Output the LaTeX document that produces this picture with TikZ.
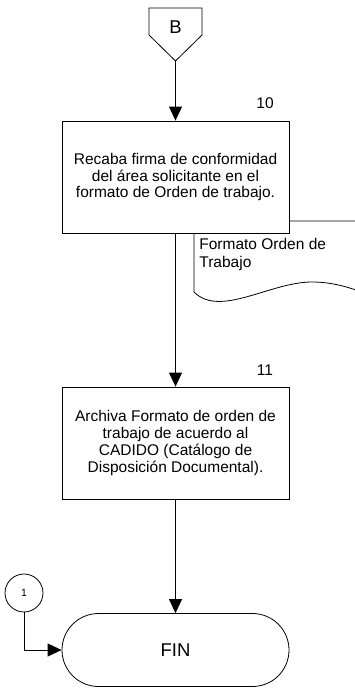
\documentclass[tikz,border=0pt]{standalone}
\usepackage{fontspec}
\setmainfont{Liberation Sans}
\usetikzlibrary{arrows.meta,shapes.misc}
\begin{document}
\begin{tikzpicture}[x=1pt,y=-1pt, line width=0.8pt,
  every node/.style={font=\fontsize{15.5}{16.8}\selectfont},
  bigtext/.style={font=\fontsize{18.5}{20}\selectfont},
  procbox/.style={draw, fill=white, minimum width=227pt, minimum height=112pt, align=center, inner sep=0pt},
  flow/.style={-{Triangle[length=14pt,width=13pt]}},
  numlabel/.style={inner sep=0pt},
  ]
\useasboundingbox (0,0) rectangle (354,688);
% off-page connector B
\draw (149,8) -- (202,8) -- (202,35) -- (175.5,61) -- (149,35) -- cycle;
\node[bigtext] (offB) at (175.5,27) {B};
\coordinate (Btip) at (175.5,61);
% document shape (behind box 10)
\draw[fill=white] (194,221) -- (375,221) -- (375,298) .. controls (356,289) and (335,282) .. (312,282) .. controls (270,282) and (220,318) .. (194,292) -- cycle;
\node[anchor=north west, align=left, inner sep=0pt, font=\fontsize{15.5}{18}\selectfont] (doctext) at (199,238) {Formato Orden de\\Trabajo};
% process boxes
\node[procbox] (p10) at (175.5,177) {Recaba firma de conformidad\\del área solicitante en el\\formato de Orden de trabajo.};
\node[numlabel] (l10) at (265,103) {10};
\node[procbox] (p11) at (175.5,443) {Archiva Formato de orden de\\trabajo de acuerdo al\\CADIDO (Catálogo de\\Disposición Documental).};
\node[numlabel] (l11) at (265,370) {11};
% terminal
\node[draw, rounded rectangle, minimum width=227pt, minimum height=73pt, inner sep=0pt, bigtext] (fin) at (175.5,650) {FIN};
% connector circle
\node[draw, circle, minimum size=38pt, inner sep=0pt, font=\fontsize{10.5}{12}\selectfont] (c1) at (24,593) {1};
% connectors
\draw[flow] (Btip) -- (p10.north);
\draw[flow] (p10.south) -- (p11.north);
\draw[flow] (p11.south) -- (fin.north);
\draw[flow] (c1.south) |- (fin.west);
\end{tikzpicture}
\end{document}
